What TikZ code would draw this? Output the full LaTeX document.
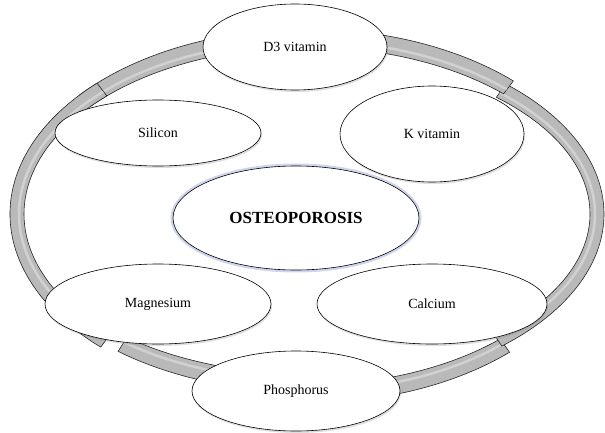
\documentclass[tikz,border=0pt]{standalone}
\usepackage{fontspec}
\setmainfont{Liberation Serif}
\usetikzlibrary{shapes.geometric,shadows}

% one grey piece of the ring, from angle #1 to angle #2, height #3
\newcommand{\ringseg}[3]{%
  \draw[ring] ({307+297*cos(#1)},{218+(#3+9)*sin(#1)})
    arc[start angle=#1, end angle=#2, x radius=297pt, y radius=#3pt+9pt]
    -- ({307+283*cos(#2)},{218+(#3-9)*sin(#2)})
    arc[start angle=#2, end angle=#1, x radius=283pt, y radius=#3pt-9pt] -- cycle;
  \draw[ringshine] ({307+288*cos(#1)},{218+(#3-3)*sin(#1)})
    arc[start angle=#1, end angle=#2, x radius=288pt, y radius=#3pt-3pt];
}

\begin{document}
\begin{tikzpicture}[x=1pt, y=1pt,
  ring/.style={draw=black!85, line width=0.6pt, fill=gray!55},
  ringshine/.style={draw=white, opacity=.35, line width=2.5pt},
  bubble/.style={ellipse, draw, fill=white, line width=0.6pt, inner sep=0pt, font=\fontsize{14}{16}\selectfont, drop shadow={shadow xshift=1pt, shadow yshift=-2pt, opacity=.25}},
  core/.style={ellipse, draw, fill=white, line width=0.6pt, inner sep=0pt, font=\fontsize{17}{20}\selectfont\bfseries, preaction={draw=cyan!35!blue!18, line width=5pt}}
]
\useasboundingbox (0,0) rectangle (605,432);

% ring pieces
\ringseg{-47}{-92}{180}
\ringseg{48}{-49}{166}
\ringseg{95}{46}{176}
\ringseg{-88}{-129.5}{169}
\ringseg{140}{92}{176}
\ringseg{226}{135}{176}

% nodes
\node[core, minimum width=246pt, minimum height=104pt] (osteo) at (296,214) {OSTEOPOROSIS};
\node[bubble, minimum width=184pt, minimum height=86pt] (d3) at (295,385) {D3 vitamin};
\node[bubble, minimum width=206pt, minimum height=66pt] (si) at (158,299) {Silicon};
\node[bubble, minimum width=184pt, minimum height=96pt] (kvit) at (432,298) {K vitamin};
\node[bubble, minimum width=226pt, minimum height=80pt] (mg) at (158,128) {Magnesium};
\node[bubble, minimum width=230pt, minimum height=80pt] (ca) at (432,128) {Calcium};
\node[bubble, minimum width=208pt, minimum height=80pt] (ph) at (296,41) {Phosphorus};
\end{tikzpicture}
\end{document}
